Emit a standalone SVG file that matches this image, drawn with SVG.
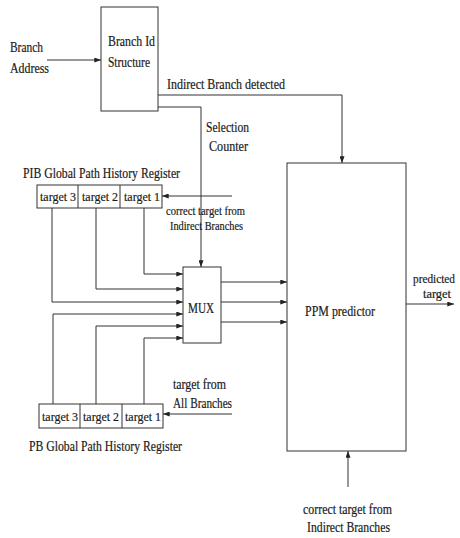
<svg xmlns="http://www.w3.org/2000/svg" width="460" height="538" viewBox="0 0 460 538">
<style>
  .box { fill: #fff; stroke: #333; stroke-width: 1; }
  .ln { fill: none; stroke: #333; stroke-width: 1; }
  text { font-family: "Liberation Serif", "Times New Roman", serif; font-size: 14.5px; fill: #1a1a1a; stroke: #1a1a1a; stroke-width: 0.2; }
  .s { font-size: 13.5px; }
  .m { font-size: 12.5px; }
  .o { font-size: 12px; }
</style>
<defs>
  <marker id="ah" viewBox="0 0 8 6" refX="8" refY="3" markerWidth="7" markerHeight="5" markerUnits="userSpaceOnUse" orient="auto">
    <path d="M0,0 L8,3 L0,6 Z" fill="#222"/>
  </marker>
</defs>
<rect width="460" height="538" fill="#fff"/>

<g id="connectors">
  <path class="ln" d="M47,60 H101" marker-end="url(#ah)"/>
  <path class="ln" d="M158,95 H342 V163" marker-end="url(#ah)"/>
  <path class="ln" d="M158,107 H201 V267" marker-end="url(#ah)"/>
  <path class="ln" d="M232,196 H162" marker-end="url(#ah)"/>
  <path class="ln" d="M144,208 V274 H183" marker-end="url(#ah)"/>
  <path class="ln" d="M96,208 V289 H183" marker-end="url(#ah)"/>
  <path class="ln" d="M52,208 V302 H183" marker-end="url(#ah)"/>
  <path class="ln" d="M53,404 V314 H183" marker-end="url(#ah)"/>
  <path class="ln" d="M96,404 V326 H183" marker-end="url(#ah)"/>
  <path class="ln" d="M144,404 V338 H183" marker-end="url(#ah)"/>
  <path class="ln" d="M232,414 H163" marker-end="url(#ah)"/>
  <path class="ln" d="M221,282 H287" marker-end="url(#ah)"/>
  <path class="ln" d="M221,302 H287" marker-end="url(#ah)"/>
  <path class="ln" d="M221,322 H287" marker-end="url(#ah)"/>
  <path class="ln" d="M406,304 H454" marker-end="url(#ah)"/>
  <path class="ln" d="M348,487 V451" marker-end="url(#ah)"/>
</g>

<g id="branch-address">
  <text x="10" y="52" textLength="33" lengthAdjust="spacingAndGlyphs">Branch</text>
  <text x="10" y="73" textLength="39" lengthAdjust="spacingAndGlyphs">Address</text>
</g>

<g id="branch-id">
  <rect class="box" x="101" y="7" width="57" height="104"/>
  <text x="108" y="46" textLength="47" lengthAdjust="spacingAndGlyphs">Branch Id</text>
  <text x="108" y="67" textLength="42" lengthAdjust="spacingAndGlyphs">Structure</text>
</g>

<g id="label-indirect">
  <text x="167" y="89" textLength="118" lengthAdjust="spacingAndGlyphs">Indirect Branch detected</text>
</g>

<g id="label-selection">
  <text x="206" y="132" textLength="43" lengthAdjust="spacingAndGlyphs">Selection</text>
  <text x="209" y="151" textLength="39" lengthAdjust="spacingAndGlyphs">Counter</text>
</g>

<g id="pib-register">
  <text x="23" y="178" textLength="157" lengthAdjust="spacingAndGlyphs">PIB Global Path History Register</text>
  <rect class="box" x="37" y="185" width="125" height="23"/>
  <path class="ln" d="M78,185 V208 M120,185 V208"/>
  <text class="s" x="40" y="201" textLength="36" lengthAdjust="spacingAndGlyphs">target 3</text>
  <text class="s" x="82" y="201" textLength="36" lengthAdjust="spacingAndGlyphs">target 2</text>
  <text class="s" x="124" y="201" textLength="36" lengthAdjust="spacingAndGlyphs">target 1</text>
</g>

<g id="label-pib-input">
  <text class="m" x="166" y="215" textLength="79" lengthAdjust="spacingAndGlyphs">correct target from</text>
  <text class="m" x="170" y="230" textLength="73" lengthAdjust="spacingAndGlyphs">Indirect Branches</text>
</g>

<g id="mux">
  <rect class="box" x="183" y="267" width="38" height="76"/>
  <text x="188" y="313" textLength="26" lengthAdjust="spacingAndGlyphs">MUX</text>
</g>

<g id="label-pb-input">
  <text x="173" y="389" textLength="53" lengthAdjust="spacingAndGlyphs">target from</text>
  <text x="173" y="408" textLength="59" lengthAdjust="spacingAndGlyphs">All Branches</text>
</g>

<g id="pb-register">
  <rect class="box" x="39" y="404" width="124" height="24"/>
  <path class="ln" d="M80,404 V428 M122,404 V428"/>
  <text class="s" x="42" y="421" textLength="36" lengthAdjust="spacingAndGlyphs">target 3</text>
  <text class="s" x="83" y="421" textLength="36" lengthAdjust="spacingAndGlyphs">target 2</text>
  <text class="s" x="125" y="421" textLength="36" lengthAdjust="spacingAndGlyphs">target 1</text>
  <text x="29" y="451" textLength="153" lengthAdjust="spacingAndGlyphs">PB Global Path History Register</text>
</g>

<g id="ppm">
  <rect class="box" x="287" y="163" width="119" height="288"/>
  <text x="305" y="316" textLength="70" lengthAdjust="spacingAndGlyphs">PPM predictor</text>
</g>

<g id="label-output">
  <text class="o" x="413" y="283" textLength="42" lengthAdjust="spacingAndGlyphs">predicted</text>
  <text class="o" x="423" y="298" textLength="28" lengthAdjust="spacingAndGlyphs">target</text>
</g>

<g id="label-ppm-input">
  <text x="303" y="514" textLength="89" lengthAdjust="spacingAndGlyphs">correct target from</text>
  <text x="307" y="532" textLength="83" lengthAdjust="spacingAndGlyphs">Indirect Branches</text>
</g>
</svg>
